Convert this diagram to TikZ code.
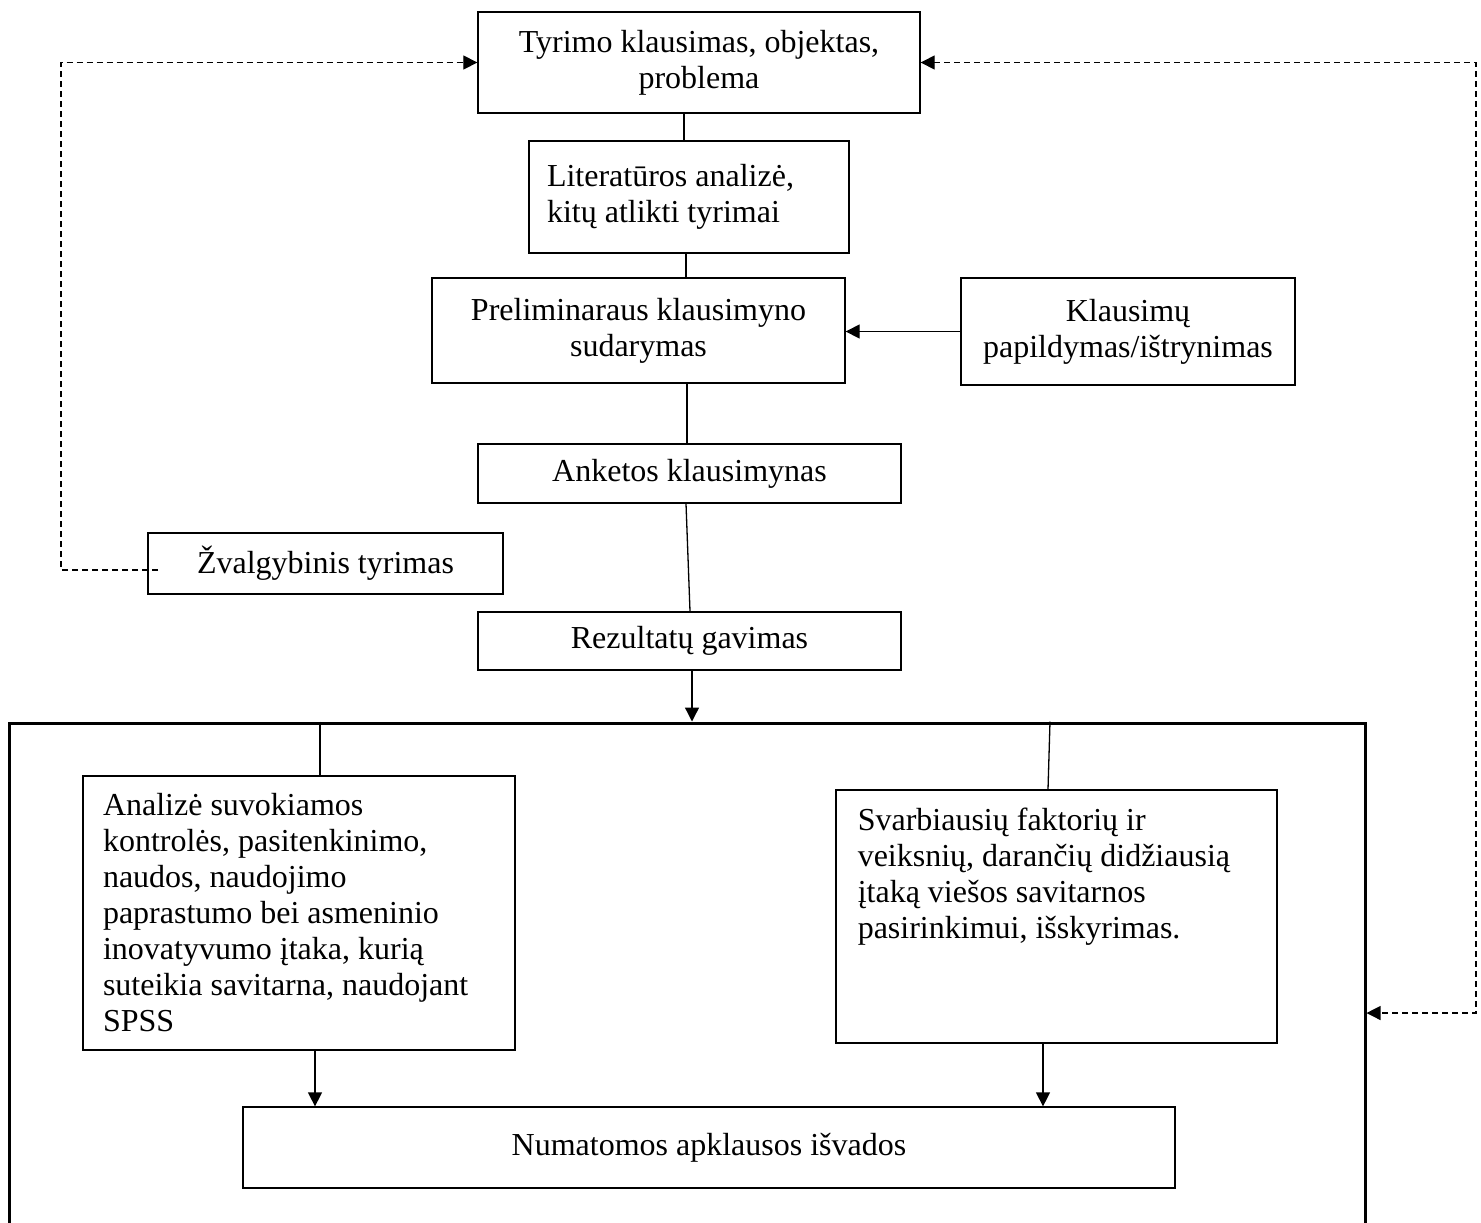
\documentclass[tikz,border=0pt]{standalone}
\usepackage{fontspec}
\setmainfont{Liberation Serif}
\usetikzlibrary{arrows.meta,calc}
\tikzset{
  box/.style={draw, line width=0.65pt, inner sep=0pt, align=flush center, font=\fontsize{16}{18}\selectfont},
  txt/.style={inner sep=0pt, align=flush left, font=\fontsize{16}{18}\selectfont},
  conn/.style={line width=0.65pt},
  tip/.style={-{Triangle[length=7pt,width=7pt]}},
  arr/.style={conn, tip},
  dline/.style={line width=0.6pt, dash pattern=on 3pt off 2pt},
}
\begin{document}
\begin{tikzpicture}[x=0.5pt,y=-0.5pt]
\useasboundingbox (0,0) rectangle (1481,1222);
% boxes
\node[box, minimum width=221pt, minimum height=50.5pt] (b1) at (699,62.5) {Tyrimo klausimas, objektas,\\problema};
\node[box, minimum width=160pt, minimum height=56pt, text width=142pt, inner xsep=9pt, align=flush left] (b2) at (689,197) {Literatūros analizė,\\kitų atlikti tyrimai};
\node[box, minimum width=206.5pt, minimum height=52.5pt] (b3) at (638.5,330.5) {Preliminaraus klausimyno\\sudarymas};
\node[box, minimum width=167pt, minimum height=53.5pt] (b4) at (1128,331.5) {Klausimų\\papildymas/ištrynimas};
\node[box, minimum width=211.5pt, minimum height=29.5pt] (b5) at (689.5,473.5) {Anketos klausimynas};
\node[box, minimum width=177.5pt, minimum height=30.5pt] (b6) at (325.5,563.5) {Žvalgybinis tyrimas};
\node[box, minimum width=211.5pt, minimum height=29pt] (b7) at (689.5,641) {Rezultatų gavimas};
\node[draw, line width=1.5pt, minimum width=678pt, minimum height=265pt, inner sep=0pt] (outer) at (687,988) {};
\node[box, minimum width=216pt, minimum height=137pt, text width=196pt, inner xsep=10pt, align=flush left] (b8) at (299,913) {Analizė suvokiamos\\kontrolės, pasitenkinimo,\\naudos, naudojimo\\paprastumo bei asmeninio\\inovatyvumo įtaka, kurią\\suteikia savitarna, naudojant\\SPSS};
\node[box, minimum width=220.5pt, minimum height=126.5pt] (b9) at (1056.5,916.5) {};
\node[txt, text width=205pt, anchor=north west] (b9t) at ([xshift=11pt,yshift=-9pt]b9.north west) {Svarbiausių faktorių ir\\veiksnių, darančių didžiausią\\įtaką viešos savitarnos\\pasirinkimui, išskyrimas.};
\node[box, minimum width=466pt, minimum height=40.5pt] (b10) at (709,1147.5) {Numatomos apklausos išvados};
% helper columns
\coordinate (c1) at (684,0);
\coordinate (c2) at (686,0);
\coordinate (c3) at (687,0);
\coordinate (c4) at (686,0);
\coordinate (c5) at (690,0);
\coordinate (c6) at (692,0);
\coordinate (c7) at (320,0);
\coordinate (c8) at (1050,0);
\coordinate (c9) at (1048,0);
\coordinate (c10) at (315,0);
\coordinate (c11) at (1043,0);
\coordinate (d1) at (158,570);
\coordinate (d2) at (61,570);
\coordinate (d3) at (1476,1013);
% connectors
\draw[conn] (b1.south -| c1) -- (b2.north -| c1);
\draw[conn] (b2.south -| c2) -- (b3.north -| c2);
\draw[conn] (b3.south -| c3) -- (b5.north -| c3);
\draw[conn] (b5.south -| c4) -- (b7.north -| c5);
\draw[arr] (b7.south -| c6) -- (outer.north -| c6);
\draw[conn] (outer.north -| c7) -- (b8.north -| c7);
\draw[conn] (outer.north -| c8) -- (b9.north -| c9);
\draw[arr] (b8.south -| c10) -- (b10.north -| c10);
\draw[arr] (b9.south -| c11) -- (b10.north -| c11);
\draw[arr] (b4.west) -- (b3.east |- b4.west);
\draw[dline, tip] (d1) -- (d2) |- (b1.west);
\draw[dline, {Triangle[length=7pt,width=7pt]}-{Triangle[length=7pt,width=7pt]}] (b1.east) -| (d3) -- (outer.east |- d3);
\end{tikzpicture}
\end{document}
